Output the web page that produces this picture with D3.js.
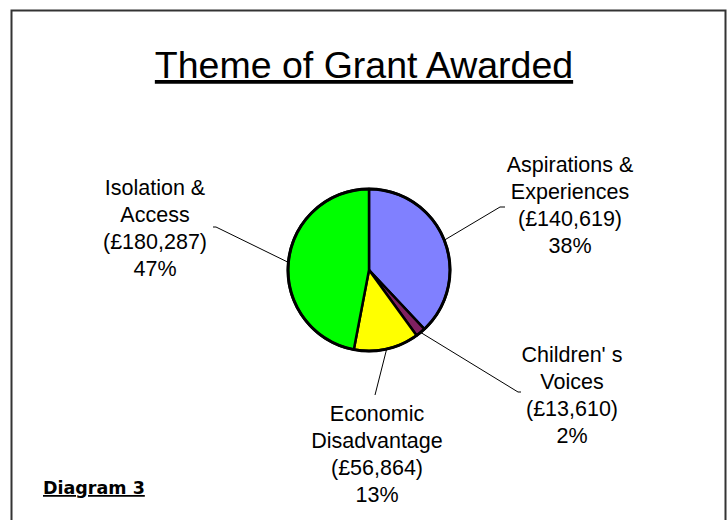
<!DOCTYPE html>
<html lang="en">

<head>
    <meta charset="UTF-8">
    <title>Theme of Grant Awarded</title>
    <style>
        body {
            margin: 0;
            background: #fff;
        }

        .frame {
            fill: none;
            stroke: #333;
            stroke-width: 2px;
        }

        .title {
            text-anchor: middle;
            font-family: "Liberation Sans", Arial, sans-serif;
            font-size: 37.5px;
            text-decoration: underline;
        }

        .slice {
            stroke: #000;
            stroke-width: 2.5px;
            stroke-linejoin: round;
        }

        .outline {
            fill: none;
            stroke: #000;
            stroke-width: 3px;
        }

        .leader {
            fill: none;
            stroke: #000;
            stroke-width: 1px;
        }

        .label {
            text-anchor: middle;
            font-family: "Liberation Sans", Arial, sans-serif;
            font-size: 21.5px;
        }

        .note {
            font-family: "Comic Sans MS", "DejaVu Sans", sans-serif;
            font-weight: bold;
            font-size: 17.5px;
            text-decoration: underline;
        }
    </style>
</head>

<body>
    <script src="https://d3js.org/d3.v7.min.js"></script>
    <script>
        const themes = ['Aspirations & Experiences', "Children' s Voices", 'Economic Disadvantage', 'Isolation & Access'];
        const nameLines = [['Aspirations &', 'Experiences'], ["Children' s", 'Voices'], ['Economic', 'Disadvantage'], ['Isolation &', 'Access']];
        const amounts = ['£140,619', '£13,610', '£56,864', '£180,287'];
        const percents = [38, 2, 13, 47];
        const colors = ['#8080ff', '#802060', '#ffff00', '#00ff00'];

        const width = 728;
        const height = 520;
        const cx = 369;
        const cy = 270;
        const radius = 81;

        // where each label block sits (text centre x, first baseline y) and where its leader ends
        const labelPos = [
            { x: 570, y: 172, end: [500, 207], tail: 5 },
            { x: 572, y: 362, end: [518, 392], tail: 3 },
            { x: 377, y: 421, end: [375, 395], tail: 0 },
            { x: 155, y: 195, end: [216, 227], tail: -3 }
        ];
        const lineHeight = 27;

        const svg = d3.select('body')
            .append('svg')
            .attr('width', width)
            .attr('height', height);

        svg.append('path')
            .attr('class', 'frame')
            .attr('d', `M11.5,${height + 5}V10.5H725.5V${height + 5}`);

        svg.append('text')
            .attr('class', 'title')
            .attr('x', 364)
            .attr('y', 78)
            .text('Theme of Grant Awarded');

        const pie = d3.pie().sort(null).value(d => d);
        const arcs = pie(percents);
        const arc = d3.arc().innerRadius(0).outerRadius(radius);

        const chart = svg.append('g')
            .attr('transform', `translate(${cx}, ${cy})`);

        chart.selectAll('.slice')
            .data(arcs)
            .enter().append('path')
            .attr('class', 'slice')
            .attr('fill', (d, i) => colors[i])
            .attr('d', arc);

        chart.append('circle')
            .attr('class', 'outline')
            .attr('r', radius);

        // leader lines from the rim at each slice's mid angle
        arcs.forEach((d, i) => {
            const mid = (d.startAngle + d.endAngle) / 2;
            const sx = cx + radius * Math.sin(mid);
            const sy = cy - radius * Math.cos(mid);
            const p = labelPos[i];
            svg.append('path')
                .attr('class', 'leader')
                .attr('d', `M${sx},${sy}L${p.end[0]},${p.end[1]}h${p.tail}`);
        });

        labelPos.forEach((p, i) => {
            const lines = nameLines[i].concat([`(${amounts[i]})`, `${percents[i]}%`]);
            const t = svg.append('text')
                .attr('class', 'label')
                .attr('x', p.x)
                .attr('y', p.y);
            lines.forEach((s, j) => {
                t.append('tspan')
                    .attr('x', p.x)
                    .attr('dy', j === 0 ? 0 : lineHeight)
                    .text(s);
            });
        });

        svg.append('text')
            .attr('class', 'note')
            .attr('x', 43)
            .attr('y', 494)
            .text('Diagram 3');
    </script>
</body>

</html>
